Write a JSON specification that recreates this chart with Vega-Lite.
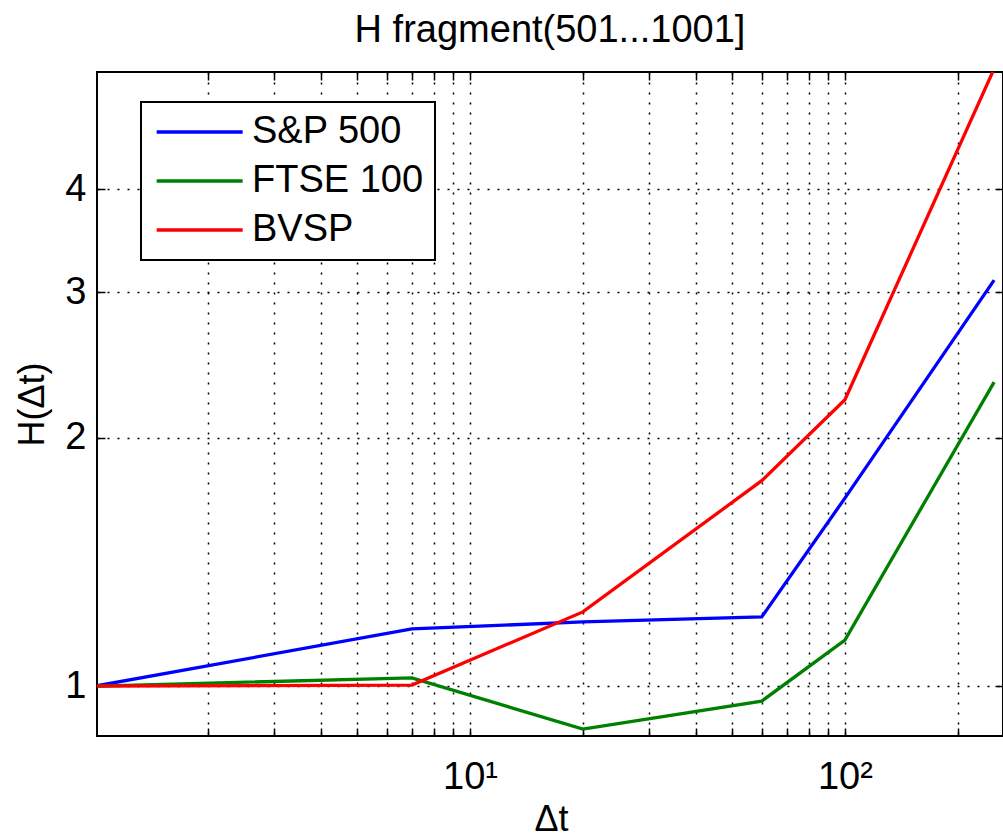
{
  "$schema": "https://vega.github.io/schema/vega-lite/v6.json",
  "width": 906,
  "height": 664,
  "autosize": {"type": "none"},
  "padding": {"left": 97, "top": 72, "right": 0, "bottom": 101},
  "background": "white",
  "config": {
    "font": "Liberation Sans",
    "view": {"stroke": "black", "strokeWidth": 2},
    "legend": {"strokeWidth": 2}
  },
  "title": {
    "text": "H fragment(501...1001]",
    "fontSize": 38,
    "fontWeight": "normal",
    "color": "black",
    "anchor": "middle",
    "baseline": "alphabetic",
    "offset": -9
  },
  "data": {
    "values": [
      {"series": "S&P 500", "dt": 1, "H": 1.0},
      {"series": "S&P 500", "dt": 7, "H": 1.173},
      {"series": "S&P 500", "dt": 20, "H": 1.196},
      {"series": "S&P 500", "dt": 60, "H": 1.213},
      {"series": "S&P 500", "dt": 100, "H": 1.69},
      {"series": "S&P 500", "dt": 250, "H": 3.105},
      {"series": "FTSE 100", "dt": 1, "H": 1.0},
      {"series": "FTSE 100", "dt": 7, "H": 1.023},
      {"series": "FTSE 100", "dt": 20, "H": 0.887},
      {"series": "FTSE 100", "dt": 60, "H": 0.959},
      {"series": "FTSE 100", "dt": 100, "H": 1.137},
      {"series": "FTSE 100", "dt": 250, "H": 2.336},
      {"series": "BVSP", "dt": 1, "H": 1.0},
      {"series": "BVSP", "dt": 7, "H": 1.003},
      {"series": "BVSP", "dt": 20, "H": 1.23},
      {"series": "BVSP", "dt": 60, "H": 1.774},
      {"series": "BVSP", "dt": 100, "H": 2.224},
      {"series": "BVSP", "dt": 250, "H": 5.6}
    ]
  },
  "layer": [
    {
      "mark": {"type": "line", "opacity": 0, "clip": true},
      "encoding": {
        "x": {
          "field": "dt", "type": "quantitative",
          "scale": {"type": "log", "domain": [1.012, 264]},
          "axis": {
            "orient": "top",
            "values": [2,3,4,5,6,7,8,9,10,20,30,40,50,60,70,80,90,100,200],
            "labels": false, "grid": false, "domain": false,
            "tickSize": -8, "tickColor": "black", "tickWidth": 1.5,
            "title": null
          }
        },
        "y": {
          "field": "H", "type": "quantitative",
          "scale": {"type": "log", "domain": [0.87, 5.55]},
          "axis": {
            "orient": "right",
            "values": [1,2,3,4],
            "labels": false, "grid": false, "domain": false,
            "tickSize": -8, "tickColor": "black", "tickWidth": 1.5,
            "title": null
          }
        },
        "detail": {"field": "series", "type": "nominal"}
      }
    },
    {
      "mark": {"type": "line", "strokeWidth": 3.3, "clip": true},
      "encoding": {
        "x": {
          "field": "dt", "type": "quantitative",
          "scale": {"type": "log", "domain": [1.012, 264]},
          "axis": {
            "orient": "bottom",
            "values": [2,3,4,5,6,7,8,9,10,20,30,40,50,60,70,80,90,100,200],
            "labelExpr": "datum.value == 10 ? '10¹' : (datum.value == 100 ? '10²' : '')",
            "labelOverlap": false, "labelBound": false, "labelFlush": false,
            "labelFontSize": 38, "labelColor": "black",
            "labelBaseline": "alphabetic", "labelPadding": 60,
            "grid": true, "gridColor": "black", "gridDash": [2, 8], "gridWidth": 1.5, "gridOpacity": 1,
            "domain": false,
            "tickSize": -8, "tickColor": "black", "tickWidth": 1.5,
            "title": "Δt", "titleFontSize": 36, "titleFontWeight": "normal", "titleColor": "black",
            "titleBaseline": "alphabetic", "titleAlign": "center", "titleX": 454, "titleY": 94
          }
        },
        "y": {
          "field": "H", "type": "quantitative",
          "scale": {"type": "log", "domain": [0.87, 5.55]},
          "axis": {
            "orient": "left",
            "values": [1,2,3,4],
            "format": "d",
            "labelOverlap": false, "labelBound": false, "labelFlush": false,
            "labelFontSize": 38, "labelColor": "black",
            "labelBaseline": "middle", "labelPadding": 19,
            "grid": true, "gridColor": "black", "gridDash": [2, 8], "gridWidth": 1.5, "gridOpacity": 1,
            "domain": false,
            "tickSize": -8, "tickColor": "black", "tickWidth": 1.5,
            "title": "H(Δt)", "titleFontSize": 36, "titleFontWeight": "normal", "titleColor": "black",
            "titleAngle": -90, "titleBaseline": "middle", "titleAlign": "center", "titleX": -65, "titleY": 332
          }
        },
        "color": {
          "field": "series", "type": "nominal",
          "scale": {"domain": ["S&P 500", "FTSE 100", "BVSP"], "range": ["#0000ff", "#008000", "#ff0000"]},
          "legend": {
            "orient": "none", "legendX": 44, "legendY": 30,
            "title": null,
            "symbolType": "M-1,0H5", "symbolSize": 822, "symbolStrokeWidth": 3.3,
            "labelFontSize": 38, "labelColor": "black", "labelOffset": 62, "labelLimit": 400,
            "labelExpr": "datum.label + '\u00a0'",
            "strokeColor": "black", "fillColor": "white",
            "padding": 11, "rowPadding": 11
          }
        }
      }
    }
  ],
  "resolve": {"axis": {"x": "independent", "y": "independent"}}
}
